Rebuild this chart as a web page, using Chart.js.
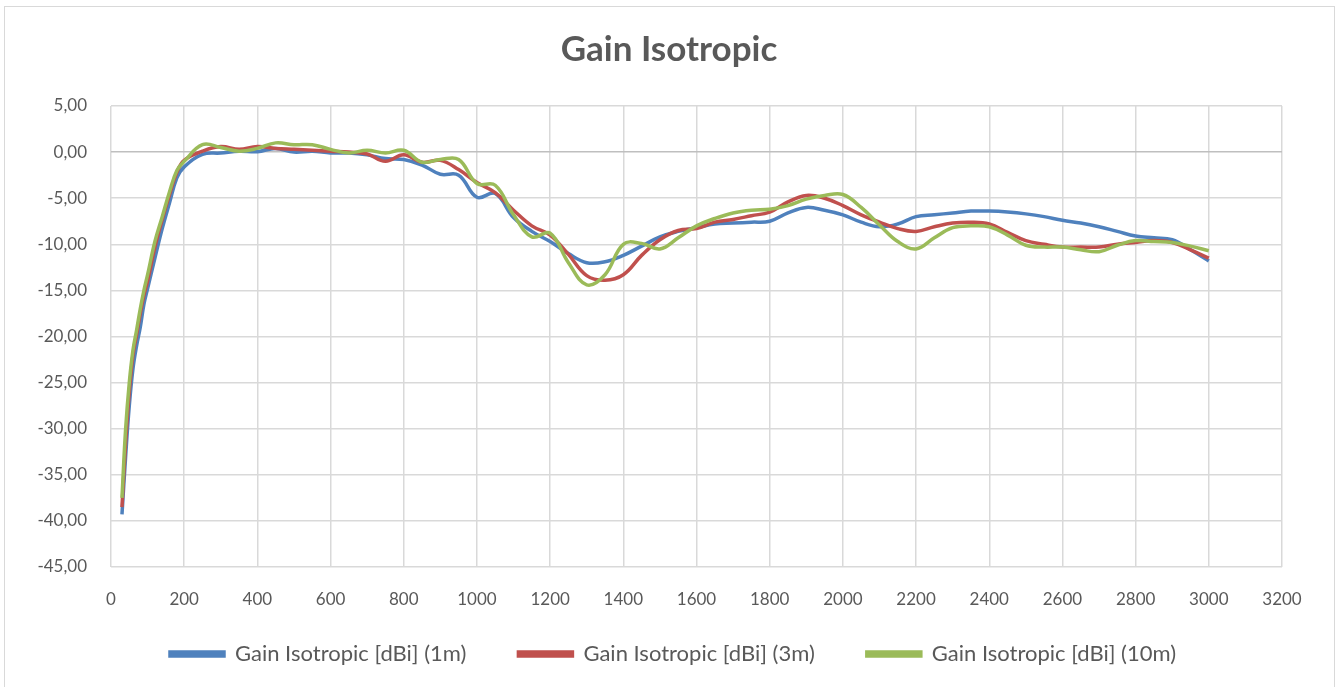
<!DOCTYPE html>
<html>
<head>
<meta charset="utf-8">
<title>Gain Isotropic</title>
<script src="https://cdn.jsdelivr.net/npm/chart.js@4/dist/chart.umd.min.js"></script>
<style>
    html, body { margin: 0; padding: 0; background: #ffffff; }
    #wrap { position: relative; width: 1338px; height: 687px; }
    #frame {
        position: absolute; left: 4px; top: 6px; width: 1331px; height: 690px;
        border: 1px solid #d9d9d9; box-sizing: border-box; pointer-events: none;
    }
</style>
</head>
<body>
<div id="wrap">
    <canvas id="gainChart" width="1338" height="687"></canvas>
    <div id="frame"></div>
</div>
<script>
// 频率 (MHz)
var frequencies = [30, 40, 50, 60, 70, 80, 90, 100, 120, 140, 160, 180,
    200, 250, 300, 350, 400, 450, 500, 550, 600, 650, 700, 750, 800, 850, 900, 950,
    1000, 1050, 1100, 1150, 1200, 1250, 1300, 1350, 1400, 1450, 1500, 1550, 1600, 1650, 1700, 1750,
    1800, 1850, 1900, 1950, 2000, 2050, 2100, 2150, 2200, 2250, 2300, 2350, 2400, 2450, 2500, 2550,
    2600, 2650, 2700, 2750, 2800, 2850, 2900, 2950, 3000];

// 各距离的增益 (dBi)
var gain1m = [-39.3, -33, -27.5, -23.5, -21, -19, -16.5, -14.8, -11.5, -8.3, -5.5, -2.8,
    -1.6, -0.25, -0.1, 0.1, 0.05, 0.4, 0.0, 0.1, -0.1, -0.1, -0.3, -0.7, -0.8, -1.4, -2.4, -2.5,
    -4.9, -4.5, -7.1, -8.6, -9.7, -11.0, -12.0, -11.9, -11.2, -10.2, -9.2, -8.6, -8.2, -7.8, -7.7, -7.6,
    -7.5, -6.6, -6.0, -6.3, -6.8, -7.6, -8.1, -7.8, -7.0, -6.8, -6.6, -6.4, -6.4, -6.5, -6.7, -7.0,
    -7.4, -7.7, -8.1, -8.6, -9.1, -9.3, -9.5, -10.6, -11.8];

var gain3m = [-38.5, -31.5, -26, -22, -19.8, -17.5, -15.5, -14, -10.3, -7.3, -4.6, -2.2,
    -0.9, 0.1, 0.6, 0.3, 0.6, 0.4, 0.3, 0.2, 0.1, 0.0, -0.2, -1.0, -0.3, -1.1, -0.9, -1.9,
    -3.3, -4.4, -6.3, -8.0, -9.0, -11.1, -13.4, -13.9, -13.3, -11.2, -9.5, -8.5, -8.3, -7.6, -7.3, -6.9,
    -6.5, -5.4, -4.7, -5.0, -5.8, -6.8, -7.6, -8.3, -8.6, -8.1, -7.7, -7.6, -7.8, -8.7, -9.6, -10.0,
    -10.3, -10.3, -10.3, -10.0, -9.8, -9.6, -9.8, -10.6, -11.5];

var gain10m = [-37.5, -30, -25, -21.5, -19.3, -17, -15, -13.3, -9.7, -7, -4.3, -2,
    -1.0, 0.8, 0.5, 0.1, 0.4, 1.0, 0.8, 0.8, 0.3, -0.1, 0.2, -0.1, 0.2, -1.1, -0.8, -0.8,
    -3.4, -3.6, -6.8, -9.2, -8.8, -12.0, -14.4, -13.3, -10.0, -9.9, -10.5, -9.3, -8.0, -7.2, -6.6, -6.3,
    -6.2, -5.8, -5.1, -4.7, -4.6, -6.0, -7.9, -9.7, -10.5, -9.3, -8.2, -8.0, -8.1, -9.0, -10.1, -10.3,
    -10.3, -10.6, -10.8, -10.1, -9.6, -9.7, -9.8, -10.2, -10.7];

var seriesLabels = ['Gain Isotropic [dBi] (1m)', 'Gain Isotropic [dBi] (3m)', 'Gain Isotropic [dBi] (10m)'];
var seriesColors = ['#4f81bd', '#c0504d', '#9bbb59'];

var textColor = '#595959';
var fontName = 'Lato, "Open Sans", sans-serif';

// 把频率和增益组合成点
function toPoints(values) {
    return frequencies.map(function(f, i) {
        return { x: f, y: values[i] };
    });
}

var seriesValues = [gain1m, gain3m, gain10m];
var datasets = seriesValues.map(function(values, i) {
    return {
        label: seriesLabels[i],
        data: toPoints(values),
        borderColor: seriesColors[i],
        backgroundColor: seriesColors[i],
        borderWidth: 3.5,
        pointRadius: 0,
        tension: 0.4,
        order: 2 - i   // 绿色画在最上面
    };
});

// 图例位置微调 (Excel 的图例比 Chart.js 的默认位置更靠上)
var legendPlacement = {
    id: 'legendPlacement',
    afterLayout: function(chart) {
        var lg = chart.legend;
        if (!lg) return;
        var h = lg.bottom - lg.top;
        lg.left += 4;
        lg.right += 4;
        lg.top = 591;
        lg.bottom = 591 + h;
    }
};

var ctx = document.getElementById('gainChart');
var gainChart = new Chart(ctx, {
    type: 'line',
    data: { datasets: datasets },
    plugins: [legendPlacement],
    options: {
        responsive: false,
        animation: false,
        layout: { padding: 0 },
        plugins: {
            title: {
                display: true,
                text: 'Gain Isotropic',
                color: textColor,
                font: { family: fontName, size: 35, weight: 'bold' },
                padding: { top: 29, bottom: 35 }
            },
            legend: {
                position: 'bottom',
                maxHeight: 75,
                labels: {
                    color: textColor,
                    font: { family: fontName, size: 22 },
                    boxWidth: 54,
                    boxHeight: 4,
                    padding: 52,
                    sort: function(a, b) { return a.datasetIndex - b.datasetIndex; }
                }
            },
            tooltip: { enabled: false }
        },
        scales: {
            x: {
                type: 'linear',
                min: 0,
                max: 3200,
                ticks: {
                    stepSize: 200,
                    color: textColor,
                    font: { family: fontName, size: 17 },
                    padding: 22,
                    maxRotation: 0,
                    callback: function(v) { return String(v); }
                },
                grid: { color: '#d9d9d9', lineWidth: 1.5, drawTicks: false },
                border: { display: false },
                afterFit: function(scale) { scale.height = 45; }
            },
            y: {
                min: -45,
                max: 5,
                ticks: {
                    stepSize: 5,
                    color: textColor,
                    font: { family: fontName, size: 17 },
                    padding: 24,
                    callback: function(v) { return v.toFixed(2).replace('.', ','); }
                },
                grid: {
                    color: function(c) { return c.tick && c.tick.value === 0 ? '#bfbfbf' : '#d9d9d9'; },
                    lineWidth: 1.5,
                    drawTicks: false
                },
                border: { display: false },
                afterFit: function(scale) { scale.width = 111; }
            },
            // 右侧留白，使标题和图例在整个画布居中
            yRight: {
                position: 'right',
                display: true,
                grid: { display: false, drawTicks: false },
                ticks: { display: false },
                border: { display: false },
                afterFit: function(scale) { scale.width = 56; }
            }
        }
    }
});
</script>
</body>
</html>
